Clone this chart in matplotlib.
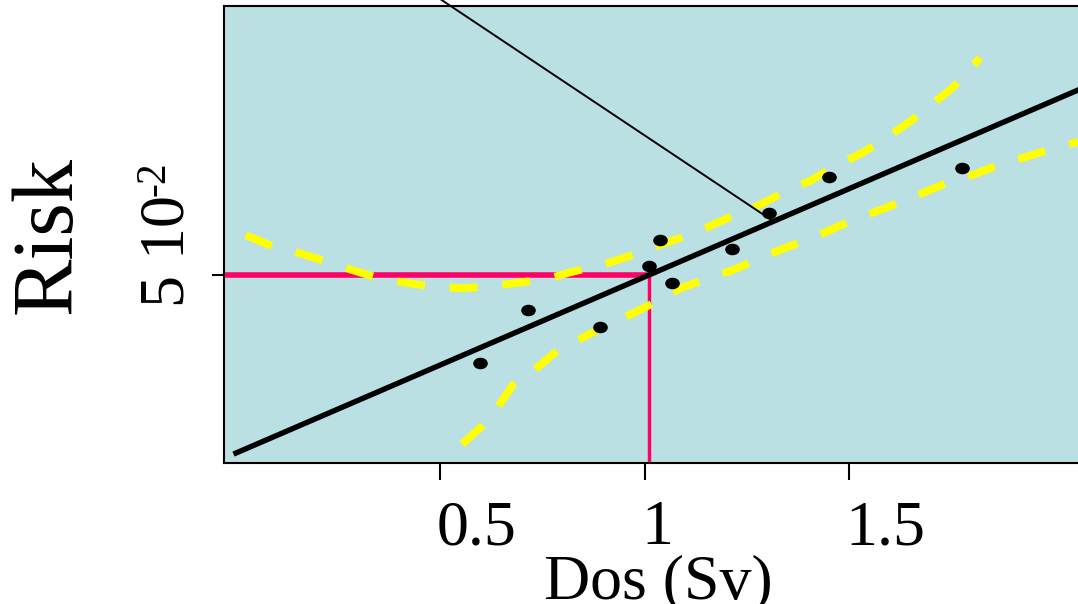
import numpy as np
import matplotlib
matplotlib.use("Agg")
import matplotlib.pyplot as plt
from matplotlib.path import Path
import matplotlib.transforms as mtransforms

plt.rcParams['font.family'] = ['Liberation Serif', 'DejaVu Serif']

# observed points (dose in Sv, risk)
dose = [0.597, 0.714, 0.890, 1.010, 1.037, 1.066, 1.213, 1.303, 1.450, 1.775]
risk = [0.0254, 0.0402, 0.0353, 0.0526, 0.0599, 0.0477, 0.0573, 0.0675, 0.0774, 0.0801]

# fitted line
fit_dose = [0.0, 2.10]
fit_risk = [0.0, 0.1040]

# upper confidence band
upper_dose = [0.024, 0.093, 0.154, 0.223, 0.284, 0.355, 0.418, 0.489, 0.553, 0.626,
              0.687, 0.760, 0.822, 0.895, 0.956, 1.022, 1.086, 1.154, 1.208, 1.281,
              1.335, 1.408, 1.457, 1.531, 1.575, 1.643, 1.690, 1.751, 1.790, 1.819]
upper_risk = [0.0612, 0.0579, 0.0562, 0.0537, 0.0514, 0.0489, 0.0478, 0.0466, 0.0463, 0.0469,
              0.0478, 0.0489, 0.0509, 0.0528, 0.0551, 0.0579, 0.0604, 0.0635, 0.0663, 0.0697,
              0.0730, 0.0767, 0.0801, 0.0843, 0.0874, 0.0927, 0.0969, 0.1025, 0.1070, 0.1110]

# lower confidence band
lower_dose = [0.553, 0.599, 0.638, 0.677, 0.729, 0.787, 0.841, 0.907, 0.966, 1.037,
              1.086, 1.164, 1.215, 1.289, 1.342, 1.416, 1.469, 1.543, 1.594, 1.668,
              1.726, 1.800, 1.851, 1.985, 2.059]
lower_risk = [0.0025, 0.0073, 0.0126, 0.0191, 0.0233, 0.0289, 0.0320, 0.0360, 0.0390, 0.0430,
              0.0463, 0.0494, 0.0514, 0.0551, 0.0576, 0.0607, 0.0635, 0.0669, 0.0691, 0.0725,
              0.0753, 0.0781, 0.0803, 0.0851, 0.0874]

# reference dose / risk
ref_dose = 1.010
ref_risk = 0.05

# pointer line
pointer_dose = [0.480, 1.306]
pointer_risk = [0.1290, 0.0657]

xlim = (-0.0293, 2.0587)
ylim = (-0.0028, 0.12556)

fig = plt.figure(figsize=(10.78, 6.04), dpi=100)
ax = fig.add_axes([224 / 1078, 1 - 463 / 604, 1 - 224 / 1078, (463 - 6) / 604])
ax.set_facecolor('#bbe0e3')
ax.set_xlim(*xlim)
ax.set_ylim(*ylim)

ell = Path.unit_circle().transformed(mtransforms.Affine2D().scale(1.3, 1.0))

ax.plot([xlim[0], ref_dose], [ref_risk, ref_risk], color='#ff0066', lw=4.0, solid_capstyle='butt', zorder=2)
ax.plot([ref_dose, ref_dose], [ylim[0], ref_risk], color='#ff0066', lw=2.5, solid_capstyle='butt', zorder=2)

for xs, ys in [(upper_dose, upper_risk), (lower_dose, lower_risk)]:
    ln, = ax.plot(xs, ys, color='#ffff00', lw=5.6, zorder=3)
    ln.set_dashes((3.6, 3.2))
    ln.set_dash_capstyle('butt')

ax.plot(fit_dose, fit_risk, color='black', lw=3.9, zorder=4)
ax.plot(pointer_dose, pointer_risk, color='black', lw=1.4, clip_on=False, zorder=5)
ax.plot(dose, risk, linestyle='none', marker=ell, markersize=9.5, color='black', zorder=6)

ax.spines['right'].set_visible(False)
for s in ['left', 'top', 'bottom']:
    ax.spines[s].set_linewidth(1.5)

ax.set_xticks([0.5, 1, 1.5])
ax.set_xticklabels(['0.5', '1', '1.5'], fontsize=46, ha='left')
ax.tick_params(axis='x', length=12, width=1.5, pad=15)
offset = mtransforms.ScaledTranslation(-4 / 100, 0, fig.dpi_scale_trans)
for lab in ax.get_xticklabels():
    lab.set_transform(lab.get_transform() + offset)
ax.set_yticks([ref_risk])
ax.set_yticklabels([''])
ax.tick_params(axis='y', length=9, width=1.5)

fig.text(658 / 1078, 1 - 598 / 604, 'Dos (Sv)', fontsize=46, ha='center', va='baseline')
fig.text(50 / 1078, 1 - 235 / 604, 'Risk', fontsize=62, rotation=90, ha='center', va='center')
fig.text(198 / 1078, 1 - 307 / 604, '5 10', fontsize=46, rotation=90, ha='right', va='bottom')
fig.text(174 / 1078, 1 - 161 / 604, '-2', fontsize=30, rotation=90, ha='right', va='top')

fig.savefig('out.png', dpi=100)
